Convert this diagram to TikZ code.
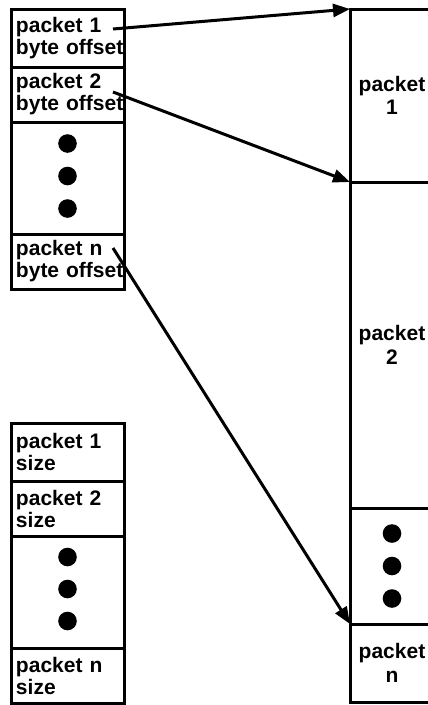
\documentclass[tikz,border=0pt]{standalone}
\usepackage{fontspec}
\setmainfont{Liberation Sans}
\usetikzlibrary{arrows.meta,calc}
\tikzset{
  cell/.style={draw,line width=3pt,anchor=north west,inner xsep=5pt,inner ysep=0pt,
    outer sep=0pt,minimum width=113pt,text width=103pt,align=left,
    font=\bfseries\fontsize{21}{22}\selectfont},
  pktcell/.style={draw,line width=3pt,anchor=north west,inner sep=0pt,outer sep=0pt,
    minimum width=84pt,align=center,
    font=\bfseries\fontsize{21}{23.5}\selectfont},
  ptr/.style={line width=3pt,-{Triangle[length=17pt,width=13pt]}}
}
\begin{document}
\begin{tikzpicture}[x=1pt,y=-1pt]
\useasboundingbox (0,0) rectangle (428,705);
% offsets table
\node[cell,minimum height=58pt] (off1) at (11,9) {packet 1\\\mbox{byte offset}};
\node[cell,minimum height=55pt] (off2) at (off1.south west) {packet 2\\\mbox{byte offset}};
\node[cell,minimum height=112pt] (offdots) at (off2.south west) {};
\node[cell,minimum height=55pt] (offn) at (offdots.south west) {packet n\\\mbox{byte offset}};
% sizes table
\node[cell,minimum height=58pt] (size1) at (11,423) {packet 1\\size};
\node[cell,minimum height=55pt] (size2) at (size1.south west) {packet 2\\size};
\node[cell,minimum height=112pt] (sizedots) at (size2.south west) {};
\node[cell,minimum height=55pt] (sizen) at (sizedots.south west) {packet n\\size};
% packet data
\node[pktcell,minimum height=173pt] (pkt1) at (350,9) {packet\\1};
\node[pktcell,minimum height=326pt] (pkt2) at (pkt1.south west) {packet\\2};
\node[pktcell,minimum height=116pt] (pktdots) at (pkt2.south west) {};
\node[pktcell,minimum height=78pt] (pktn) at (pktdots.south west) {packet\\n};
\foreach \d in {-1,0,1} {
  \fill ($(offdots.center)+(0,\d*32.5-2)$) circle (9.3pt);
  \fill ($(sizedots.center)+(0,\d*32-3)$) circle (9.3pt);
  \fill ($(pktdots.center)+(0,\d*32.5)$) circle (9.3pt);
}
% pointers
\coordinate (p1) at (113,29);
\coordinate (p2) at (113,92);
\coordinate (pn) at (113,248);
\draw[ptr] (p1) -- (pkt1.north west);
\draw[ptr] (p2) -- (pkt2.north west);
\draw[ptr] (pn) -- (pktn.north west);
\end{tikzpicture}
\end{document}
